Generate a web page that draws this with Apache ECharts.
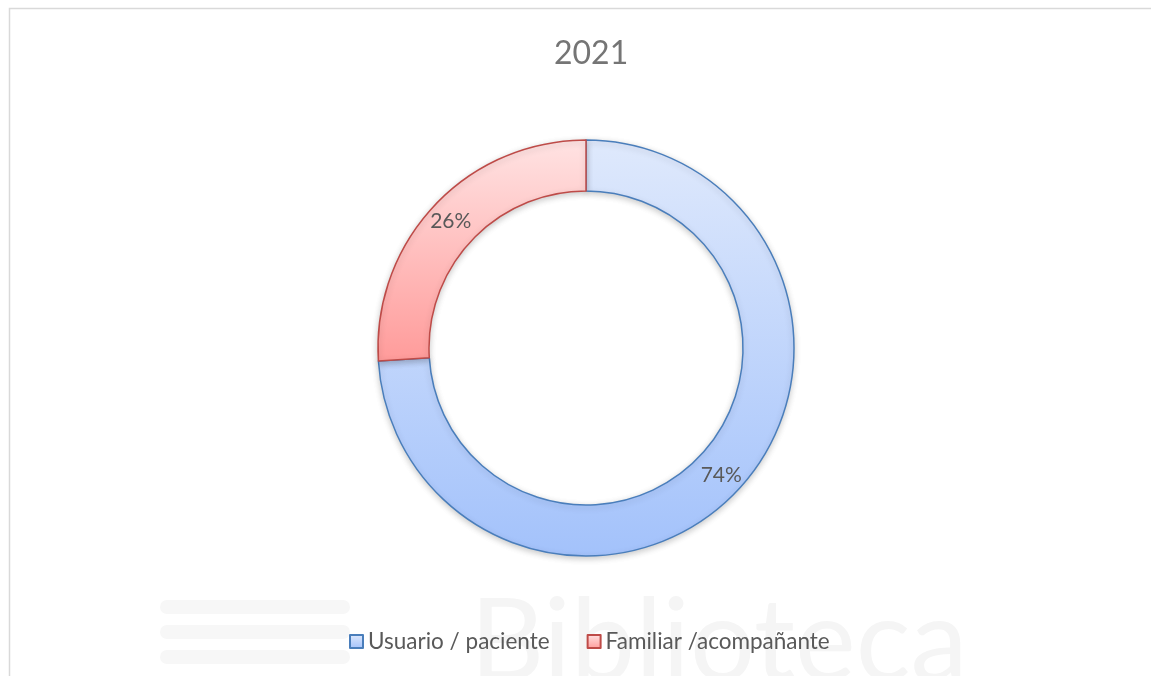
<!DOCTYPE html>
<html>
<head>
<meta charset="utf-8">
<script src="https://cdn.jsdelivr.net/npm/echarts@6/dist/echarts.min.js"></script>
<style>
    html, body { margin: 0; padding: 0; background: #fff; }
    #main { width: 1151px; height: 676px; }
</style>
</head>
<body>
<div id="main"></div>
<script>
// datos del grafico
var titulo = '2021';
var categorias = ['Usuario / paciente', 'Familiar /acompañante'];
var valores = [74, 26];

var estilos = [
    { top: '#dfe9fc', bottom: '#a3c2fb', border: '#4a7ebb' },
    { top: '#ffe3e3', bottom: '#ff9b9a', border: '#be4b48' }
];

var myChart = echarts.init(document.getElementById('main'));

var datos = categorias.map(function (c, i) {
    return {
        name: c,
        value: valores[i],
        itemStyle: {
            color: new echarts.graphic.LinearGradient(0, 0, 0, 1, [
                { offset: 0, color: estilos[i].top },
                { offset: 1, color: estilos[i].bottom }
            ]),
            borderColor: estilos[i].border,
            borderWidth: 1.5
        }
    };
});

// marca de agua de fondo (muy tenue)
var marca = [
    { type: 'rect', z: -6, shape: { x: 160, y: 600, width: 190, height: 14, r: 7 }, style: { fill: '#f7f7f7' } },
    { type: 'rect', z: -6, shape: { x: 160, y: 625, width: 190, height: 14, r: 7 }, style: { fill: '#f7f7f7' } },
    { type: 'rect', z: -6, shape: { x: 160, y: 650, width: 190, height: 14, r: 7 }, style: { fill: '#f7f7f7' } },
    { type: 'text', z: -5, left: 470, top: 585, style: { text: 'Biblioteca', fontSize: 115, fontFamily: 'Lato', fill: '#f5f5f5' } }
];

var option = {
    backgroundColor: '#fff',
    textStyle: { fontFamily: 'Lato' },
    title: {
        text: titulo,
        left: 549,
        top: 33,
        textStyle: { color: '#757575', fontSize: 32, fontWeight: 'normal', fontFamily: 'Lato' }
    },
    graphic: [
        {
            type: 'rect', z: -10,
            shape: { x: 9.5, y: 8.5, width: 1200, height: 700 },
            style: { fill: 'none', stroke: '#d9d9d9', lineWidth: 1.5 }
        }
    ].concat(marca),
    legend: {
        bottom: 18,
        left: 344,
        itemWidth: 13,
        itemHeight: 13,
        itemGap: 37,
        icon: 'rect',
        textStyle: { color: '#595959', fontSize: 22.5, fontFamily: 'Lato' },
        data: categorias
    },
    series: [
        {
            name: titulo,
            type: 'pie',
            center: [586, 348],
            radius: [157, 208],
            startAngle: 90,
            clockwise: true,
            avoidLabelOverlap: false,
            itemStyle: {
                shadowBlur: 6,
                shadowOffsetY: 2,
                shadowColor: 'rgba(0,0,0,0.2)'
            },
            label: {
                show: true,
                position: 'inside',
                formatter: '{d}%',
                color: '#595959',
                fontSize: 21,
                fontFamily: 'Lato'
            },
            labelLine: { show: false },
            emphasis: { disabled: true },
            data: datos
        }
    ]
};

myChart.setOption(option);
window.addEventListener('resize', function () { myChart.resize(); });
</script>
</body>
</html>
